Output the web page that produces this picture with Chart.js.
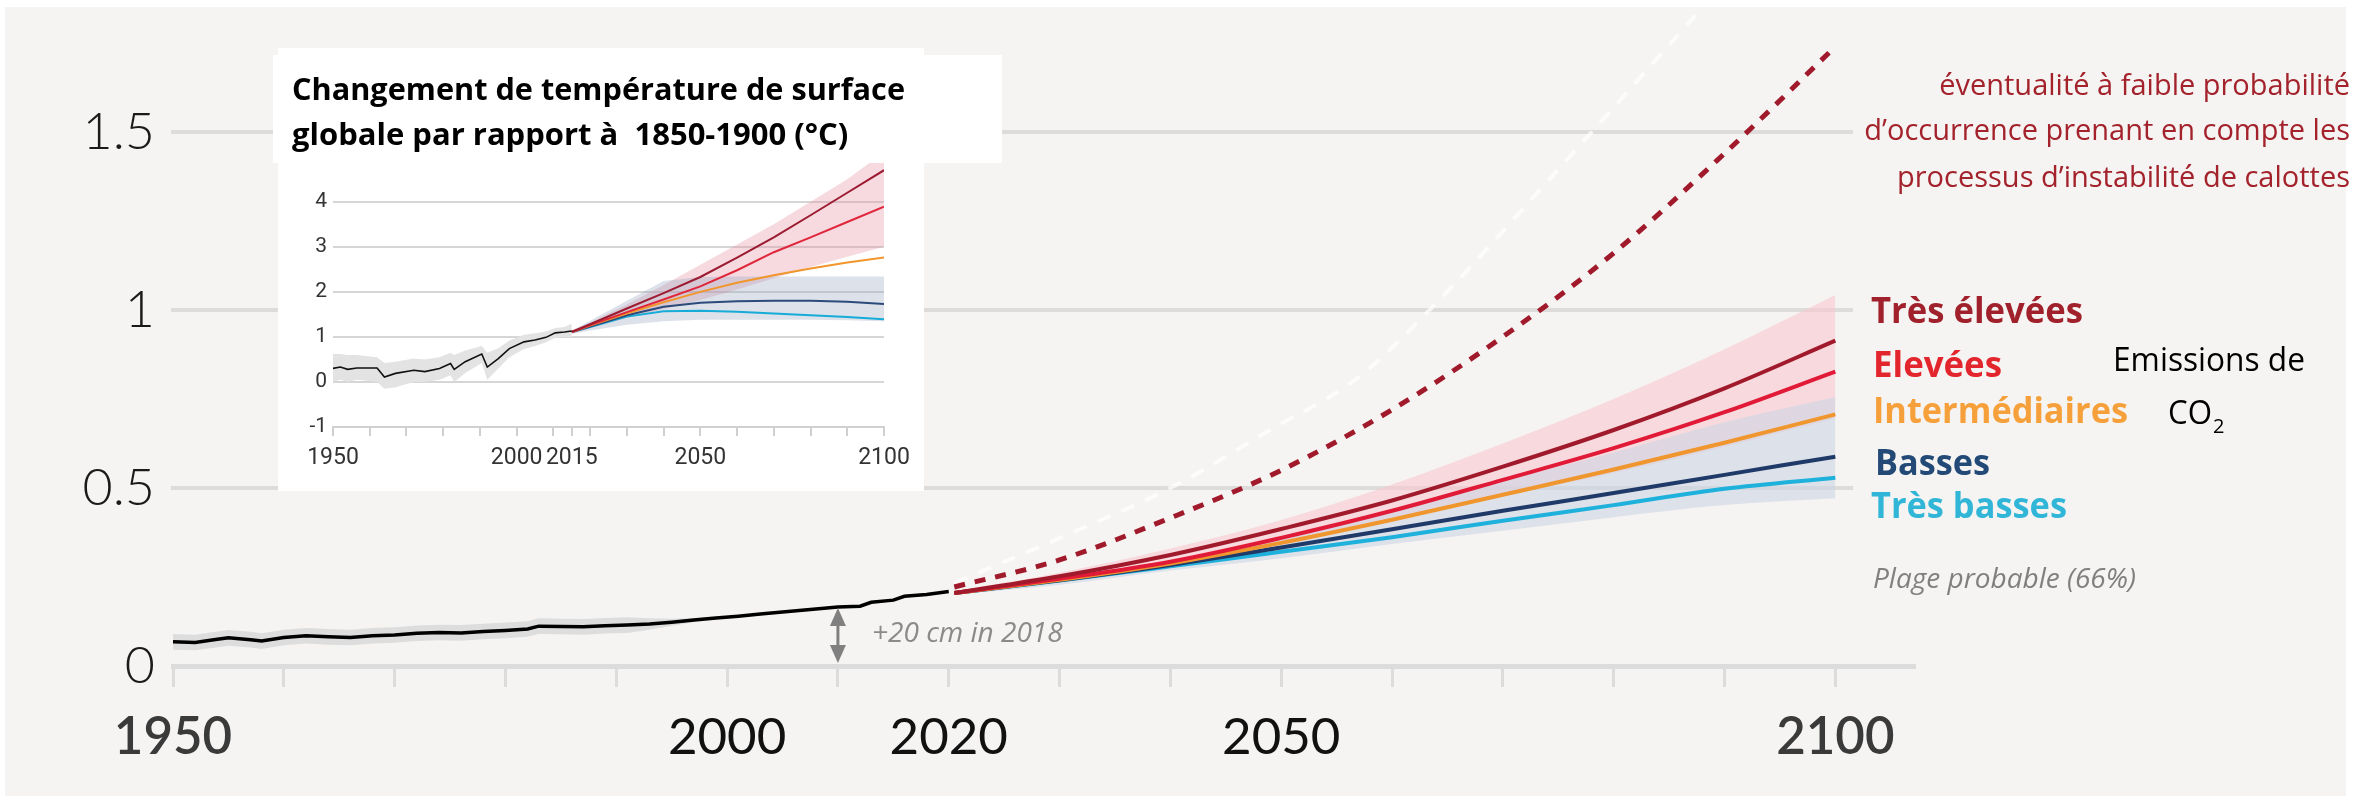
<!DOCTYPE html>
<html>
<head>
<meta charset="utf-8">
<title>Niveau de la mer</title>
<script src="https://cdn.jsdelivr.net/npm/chart.js@4.4.1/dist/chart.umd.min.js"></script>
<style>
  html, body { margin: 0; padding: 0; background: #fff; }
  #wrap { position: relative; width: 2371px; height: 796px; overflow: hidden; }
  #main { position: absolute; left: 0; top: 0; }
  #inset { position: absolute; left: 273px; top: 48px; }
</style>
</head>
<body>
<div id="wrap">
  <canvas id="main" width="2371" height="796"></canvas>
  <canvas id="inset" width="729" height="443"></canvas>
</div>
<script>
// --- Main panel: sea level rise (m) ---
const obsYears = [1950,1952,1954,1955,1957,1958,1960,1962,1964,1966,1968,1970,1972,1974,1976,1978,1980,1982,1983,1985,1987,1989,1991,1993,1995,1997,1999,2001,2003,2005,2007,2010,2012,2013,2015,2016,2018,2020];
const obsValues = [0.068,0.066,0.075,0.079,0.074,0.070,0.080,0.085,0.082,0.080,0.085,0.087,0.092,0.094,0.093,0.097,0.100,0.104,0.112,0.111,0.110,0.113,0.115,0.118,0.123,0.129,0.135,0.140,0.146,0.152,0.157,0.166,0.168,0.179,0.185,0.196,0.201,0.209];
const obsBandYears = [1950,1952,1954,1955,1957,1958,1960,1962,1964,1966,1968,1970,1972,1974,1976,1978,1980,1982,1983,1985,1987,1989,1991,1993,1995,1997,1999];
const obsBandHigh = [0.090,0.088,0.097,0.101,0.096,0.092,0.102,0.107,0.104,0.102,0.107,0.109,0.114,0.116,0.115,0.119,0.122,0.126,0.134,0.133,0.132,0.135,0.137,0.134,0.133,0.135,0.139];
const obsBandLow = [0.046,0.044,0.053,0.057,0.052,0.048,0.058,0.063,0.060,0.058,0.063,0.065,0.070,0.072,0.071,0.075,0.078,0.082,0.090,0.089,0.088,0.091,0.093,0.102,0.113,0.123,0.131];

const projYears = [2020.5,2030,2040,2050,2060,2070,2080,2090,2100];
const tresElevees = [0.205,0.252,0.312,0.385,0.465,0.560,0.663,0.780,0.914];
const elevees = [0.205,0.245,0.293,0.360,0.436,0.523,0.612,0.713,0.827];
const intermediaires = [0.205,0.242,0.288,0.346,0.411,0.481,0.552,0.627,0.707];
const basses = [0.205,0.241,0.284,0.333,0.384,0.436,0.486,0.537,0.588];
const tresBasses = [0.205,0.240,0.280,0.321,0.362,0.408,0.452,0.498,0.529];
const highRangeTop = [0.21,0.262,0.33,0.41,0.51,0.625,0.75,0.89,1.042];
const highRangeBottom = [0.2,0.24,0.285,0.345,0.41,0.478,0.542,0.616,0.696];
const lowRangeTop = [0.205,0.245,0.293,0.36,0.44,0.52,0.6,0.685,0.756];
const lowRangeBottom = [0.2,0.228,0.268,0.303,0.343,0.38,0.418,0.452,0.471];

// low-likelihood ice-sheet instability storyline
const dashYears = [2020.5,2030,2040,2050,2060,2070,2080,2090,2100];
const dashValues = [0.222,0.298,0.416,0.55,0.72,0.925,1.16,1.44,1.74];
// faint white ghost of it, visible in the source picture
const ghostYears = [2020.5,2031,2040,2049,2057,2064,2076,2088];
const ghostValues = [0.233,0.373,0.5,0.663,0.812,1.02,1.43,1.85];

const xTicks = [1950,1960,1970,1980,1990,2000,2010,2020,2030,2040,2050,2060,2070,2080,2090,2100];
const xLabels = [1950,2000,2020,2050,2100];
const yTicks = [0,0.5,1,1.5];
const arrowYear = 2010;

// --- Inset: global surface temperature change vs 1850-1900 (°C) ---
const insetObsYears = [1950,1952,1954,1956.5,1962,1964,1967,1972,1975,1979,1982,1983,1986,1990.5,1992,1995,1998,2002,2005,2008,2010.5,2013,2015];
const insetObsValues = [0.30,0.33,0.28,0.31,0.31,0.11,0.19,0.26,0.23,0.30,0.41,0.28,0.45,0.62,0.33,0.52,0.74,0.89,0.93,0.99,1.09,1.11,1.13];
const insetObsHigh = [0.62,0.62,0.60,0.60,0.55,0.42,0.45,0.52,0.50,0.55,0.65,0.60,0.70,0.80,0.65,0.75,0.92,1.05,1.08,1.12,1.20,1.22,1.30];
const insetObsLow = [0.0,0.05,0.0,0.05,0.0,-0.15,-0.12,0.0,0.0,0.05,0.15,0.0,0.2,0.42,0.05,0.3,0.55,0.73,0.8,0.88,0.98,1.0,1.0];
const insetYears = [2015,2020,2030,2040,2050,2060,2070,2080,2090,2100];
const insetSsp585 = [1.11,1.28,1.63,1.97,2.33,2.76,3.21,3.70,4.20,4.70];
const insetSsp370 = [1.11,1.26,1.55,1.83,2.12,2.48,2.88,3.21,3.55,3.89];
const insetSsp245 = [1.11,1.25,1.52,1.77,2.00,2.20,2.37,2.52,2.65,2.76];
const insetSsp126 = [1.11,1.23,1.48,1.67,1.76,1.79,1.80,1.80,1.78,1.73];
const insetSsp119 = [1.11,1.22,1.45,1.57,1.58,1.56,1.52,1.48,1.44,1.39];
const insetHighTop = [1.15,1.32,1.72,2.15,2.60,3.05,3.50,4.00,4.50,5.10];
const insetHighBottom = [1.07,1.20,1.42,1.62,1.82,2.05,2.30,2.55,2.78,3.00];
const insetLowTop = [1.14,1.36,1.80,2.24,2.33,2.34,2.34,2.34,2.34,2.34];
const insetLowBottom = [1.07,1.14,1.27,1.35,1.38,1.38,1.38,1.38,1.37,1.35];
const insetXTicks = [1950,1960,1970,1980,1990,2000,2010,2015,2020,2030,2040,2050,2060,2070,2080,2090,2100];
const insetXLabels = [1950,2000,2015,2050,2100];
const insetYTicks = [-1,0,1,2,3,4];

const pts = (xs, ys) => xs.map((x, i) => ({ x: x, y: ys[i] }));

function series(xs, ys, color, width, order, extra) {
    return Object.assign({
        data: pts(xs, ys),
        borderColor: color,
        borderWidth: width,
        pointRadius: 0,
        fill: false,
        order: order
    }, extra || {});
}

function band(xs, ys, bg, order, extra) {
    return series(xs, ys, 'rgba(0,0,0,0)', 0, order, Object.assign({ backgroundColor: bg }, extra || {}));
}

function txt(ctx, s, x, y, font, color, align, maxW) {
    ctx.font = font;
    ctx.fillStyle = color;
    ctx.textAlign = align || 'left';
    ctx.textBaseline = 'alphabetic';
    if (maxW) ctx.fillText(s, x, y, maxW);
    else ctx.fillText(s, x, y);
}

// no extra room for half tick labels: the plot box is placed by hand
function noLabelPadding(s) {
    s.paddingTop = 0;
    s.paddingBottom = 0;
    s.paddingLeft = 0;
    s.paddingRight = 0;
}

const smooth = { cubicInterpolationMode: 'monotone' };

// --- Main chart decorations ---
const mainDecor = {
    id: 'mainDecor',
    beforeDraw(chart) {
        const ctx = chart.ctx;
        ctx.save();
        ctx.fillStyle = '#ffffff';
        ctx.fillRect(0, 0, chart.width, chart.height);
        ctx.fillStyle = '#f5f4f2';
        ctx.fillRect(5, 7, 2341, 789);
        ctx.restore();
    },
    beforeDatasetsDraw(chart) {
        // horizontal grid, stopped short of the legend
        const { ctx, scales: { x, y } } = chart;
        ctx.save();
        ctx.strokeStyle = '#dddcda';
        ctx.lineWidth = 4;
        yTicks.filter(v => v > 0).forEach(v => {
            const py = Math.round(y.getPixelForValue(v));
            ctx.beginPath();
            ctx.moveTo(x.left - 2, py);
            ctx.lineTo(x.getPixelForValue(2101.6), py);
            ctx.stroke();
        });
        ctx.restore();
    },
    afterDatasetsDraw(chart) {
        const { ctx, scales: { x, y } } = chart;
        ctx.save();

        // +20 cm arrow
        const ax = x.getPixelForValue(arrowYear);
        const top = y.getPixelForValue(obsValues[obsYears.indexOf(arrowYear)]) + 1;
        const bot = y.getPixelForValue(0) - 3;
        ctx.strokeStyle = '#808080';
        ctx.fillStyle = '#808080';
        ctx.lineWidth = 3;
        ctx.beginPath();
        ctx.moveTo(ax, top + 14);
        ctx.lineTo(ax, bot - 14);
        ctx.stroke();
        ctx.beginPath();
        ctx.moveTo(ax, top); ctx.lineTo(ax - 8, top + 18); ctx.lineTo(ax + 8, top + 18); ctx.closePath();
        ctx.fill();
        ctx.beginPath();
        ctx.moveTo(ax, bot); ctx.lineTo(ax - 8, bot - 18); ctx.lineTo(ax + 8, bot - 18); ctx.closePath();
        ctx.fill();
        txt(ctx, '+20 cm in 2018', 872, 642, 'italic 400 28px "Open Sans"', '#8a8a8a', 'left', 195);

        // scenario labels
        const lab = 'bold 36px "Open Sans"';
        txt(ctx, 'Très élevées', 1871, 323, lab, '#a0212b', 'left', 212);
        txt(ctx, 'Elevées', 1873, 377, lab, '#e3262d', 'left', 129);
        txt(ctx, 'Intermédiaires', 1873, 423, lab, '#f6a03b', 'left', 255);
        txt(ctx, 'Basses', 1875, 475, lab, '#234a77', 'left', 115);
        txt(ctx, 'Très basses', 1871, 518, lab, '#31b6d8', 'left', 196);
        txt(ctx, 'Emissions de', 2113, 371, '400 32px "Open Sans"', '#000000', 'left', 192);
        txt(ctx, 'CO', 2168, 424, '400 32px "Open Sans"', '#000000', 'left', 44);
        txt(ctx, '2', 2213, 433, '400 20px "Open Sans"', '#000000', 'left');
        txt(ctx, 'Plage probable (66%)', 1873, 588, 'italic 400 28px "Open Sans"', '#808080', 'left', 274);

        // low-likelihood note
        const note = '400 29px "Open Sans"';
        txt(ctx, 'éventualité à faible probabilité', 2350, 95, note, '#a3222c', 'right', 461);
        txt(ctx, 'd’occurrence prenant en compte les', 2350, 140, note, '#a3222c', 'right', 512);
        txt(ctx, 'processus d’instabilité de calottes', 2350, 187, note, '#a3222c', 'right', 497);

        ctx.restore();
    }
};

new Chart(document.getElementById('main'), {
    type: 'line',
    data: {
        datasets: [
            band(obsBandYears, obsBandHigh, '#dddddd', 20, { fill: '+1' }),
            band(obsBandYears, obsBandLow, '#dddddd', 21),
            band(projYears, highRangeTop, 'rgba(250,200,208,0.6)', 18, Object.assign({ fill: '+1' }, smooth)),
            band(projYears, highRangeBottom, 'rgba(250,200,208,0.6)', 19, smooth),
            band(projYears, lowRangeTop, 'rgba(205,212,226,0.6)', 16, Object.assign({ fill: '+1' }, smooth)),
            band(projYears, lowRangeBottom, 'rgba(205,212,226,0.6)', 17, smooth),
            series(ghostYears, ghostValues, 'rgba(255,255,255,0.7)', 4, 10, Object.assign({ borderDash: [14, 12] }, smooth)),
            series(projYears, tresBasses, '#1eb1dc', 4, 9, smooth),
            series(projYears, basses, '#1f3a68', 4, 8, smooth),
            series(projYears, intermediaires, '#f0962f', 4, 7, smooth),
            series(projYears, elevees, '#e11b37', 4, 6, smooth),
            series(projYears, tresElevees, '#a11a2c', 4, 5, smooth),
            series(dashYears, dashValues, '#a01a2b', 5, 4, Object.assign({ borderDash: [11, 10] }, smooth)),
            series(obsYears, obsValues, '#000000', 3.5, 3)
        ]
    },
    options: {
        responsive: false,
        animation: false,
        devicePixelRatio: 1,
        layout: { padding: { left: 0, top: 5, right: 457, bottom: 0 } },
        plugins: { legend: { display: false }, tooltip: { enabled: false } },
        scales: {
            x: {
                type: 'linear',
                min: 1950,
                max: 2107.1,
                afterBuildTicks: s => { s.ticks = xTicks.map(v => ({ value: v })); },
                afterFit: s => { s.height = 130; noLabelPadding(s); },
                grid: { drawOnChartArea: false, color: '#dcdcdc', lineWidth: 3, tickLength: 21 },
                border: { color: '#dcdcdc', width: 5 },
                ticks: {
                    autoSkip: false,
                    maxRotation: 0,
                    padding: 20,
                    callback: v => xLabels.includes(v) ? String(v) : '',
                    color: c => (c.tick && (c.tick.value === 1950 || c.tick.value === 2100)) ? '#3a3a3a' : '#111111',
                    font: c => ({ family: 'Lato', size: 51, weight: (c.tick && (c.tick.value === 1950 || c.tick.value === 2100)) ? '600' : '400' })
                }
            },
            y: {
                min: 0,
                max: 1.857,
                afterBuildTicks: s => { s.ticks = yTicks.map(v => ({ value: v })); },
                afterFit: s => { s.width = 173; noLabelPadding(s); },
                grid: { display: false, drawTicks: false },
                border: { display: false },
                ticks: {
                    padding: 18,
                    color: '#1a1a1a',
                    font: { family: 'Lato', size: 52, weight: '300' },
                    callback: v => String(v)
                }
            }
        }
    },
    plugins: [mainDecor]
});

// --- Inset chart ---
const insetDecor = {
    id: 'insetDecor',
    beforeDraw(chart) {
        const ctx = chart.ctx;
        ctx.save();
        ctx.fillStyle = '#ffffff';
        ctx.fillRect(0, 7, 729, 108);
        ctx.fillRect(5, 0, 646, 443);
        ctx.restore();
    },
    afterDraw(chart) {
        const ctx = chart.ctx;
        ctx.save();
        const f = 'bold 31px "Open Sans"';
        txt(ctx, 'Changement de température de surface', 19, 52, f, '#000000', 'left', 613);
        txt(ctx, 'globale par rapport à  1850-1900 (°C)', 19, 97, f, '#000000', 'left', 575);
        ctx.restore();
    }
};

const narrow = "'Liberation Sans Narrow', 'Arial Narrow', Roboto";

new Chart(document.getElementById('inset'), {
    type: 'line',
    data: {
        datasets: [
            band(insetObsYears, insetObsHigh, '#e3e3e3', 20, { fill: '+1' }),
            band(insetObsYears, insetObsLow, '#e3e3e3', 21),
            band(insetYears, insetHighTop, 'rgba(230,140,160,0.33)', 18, { fill: '+1' }),
            band(insetYears, insetHighBottom, 'rgba(230,140,160,0.33)', 19),
            band(insetYears, insetLowTop, 'rgba(150,165,190,0.33)', 16, { fill: '+1' }),
            band(insetYears, insetLowBottom, 'rgba(150,165,190,0.33)', 17),
            series(insetYears, insetSsp119, '#17acd8', 2, 9),
            series(insetYears, insetSsp126, '#2c4a7a', 2, 8),
            series(insetYears, insetSsp245, '#f0962d', 2, 7),
            series(insetYears, insetSsp370, '#e0263a', 2, 6),
            series(insetYears, insetSsp585, '#9b1b30', 2, 5),
            series(insetObsYears, insetObsValues, '#111111', 1.6, 3)
        ]
    },
    options: {
        responsive: false,
        animation: false,
        devicePixelRatio: 1,
        layout: { padding: { left: 0, top: 115, right: 118, bottom: 0 } },
        plugins: { legend: { display: false }, tooltip: { enabled: false } },
        scales: {
            x: {
                type: 'linear',
                min: 1950,
                max: 2100,
                afterBuildTicks: s => { s.ticks = insetXTicks.map(v => ({ value: v })); },
                afterFit: s => { s.height = 64; noLabelPadding(s); },
                grid: { drawOnChartArea: false, color: '#d0d0d0', lineWidth: 2, tickLength: 9 },
                border: { color: '#d0d0d0', width: 2 },
                ticks: {
                    autoSkip: false,
                    maxRotation: 0,
                    padding: 8,
                    color: '#333333',
                    font: { family: narrow, size: 23 },
                    callback: v => insetXLabels.includes(v) ? String(v) : ''
                }
            },
            y: {
                min: -1,
                max: 4.86,
                afterBuildTicks: s => { s.ticks = insetYTicks.map(v => ({ value: v })); },
                afterFit: s => { s.width = 60; noLabelPadding(s); },
                grid: { color: '#d6d6d6', lineWidth: 2, drawTicks: false },
                border: { display: false },
                ticks: {
                    padding: 6,
                    color: '#333333',
                    font: { family: narrow, size: 21 },
                    callback: v => String(v)
                }
            }
        }
    },
    plugins: [insetDecor]
});
</script>
</body>
</html>
